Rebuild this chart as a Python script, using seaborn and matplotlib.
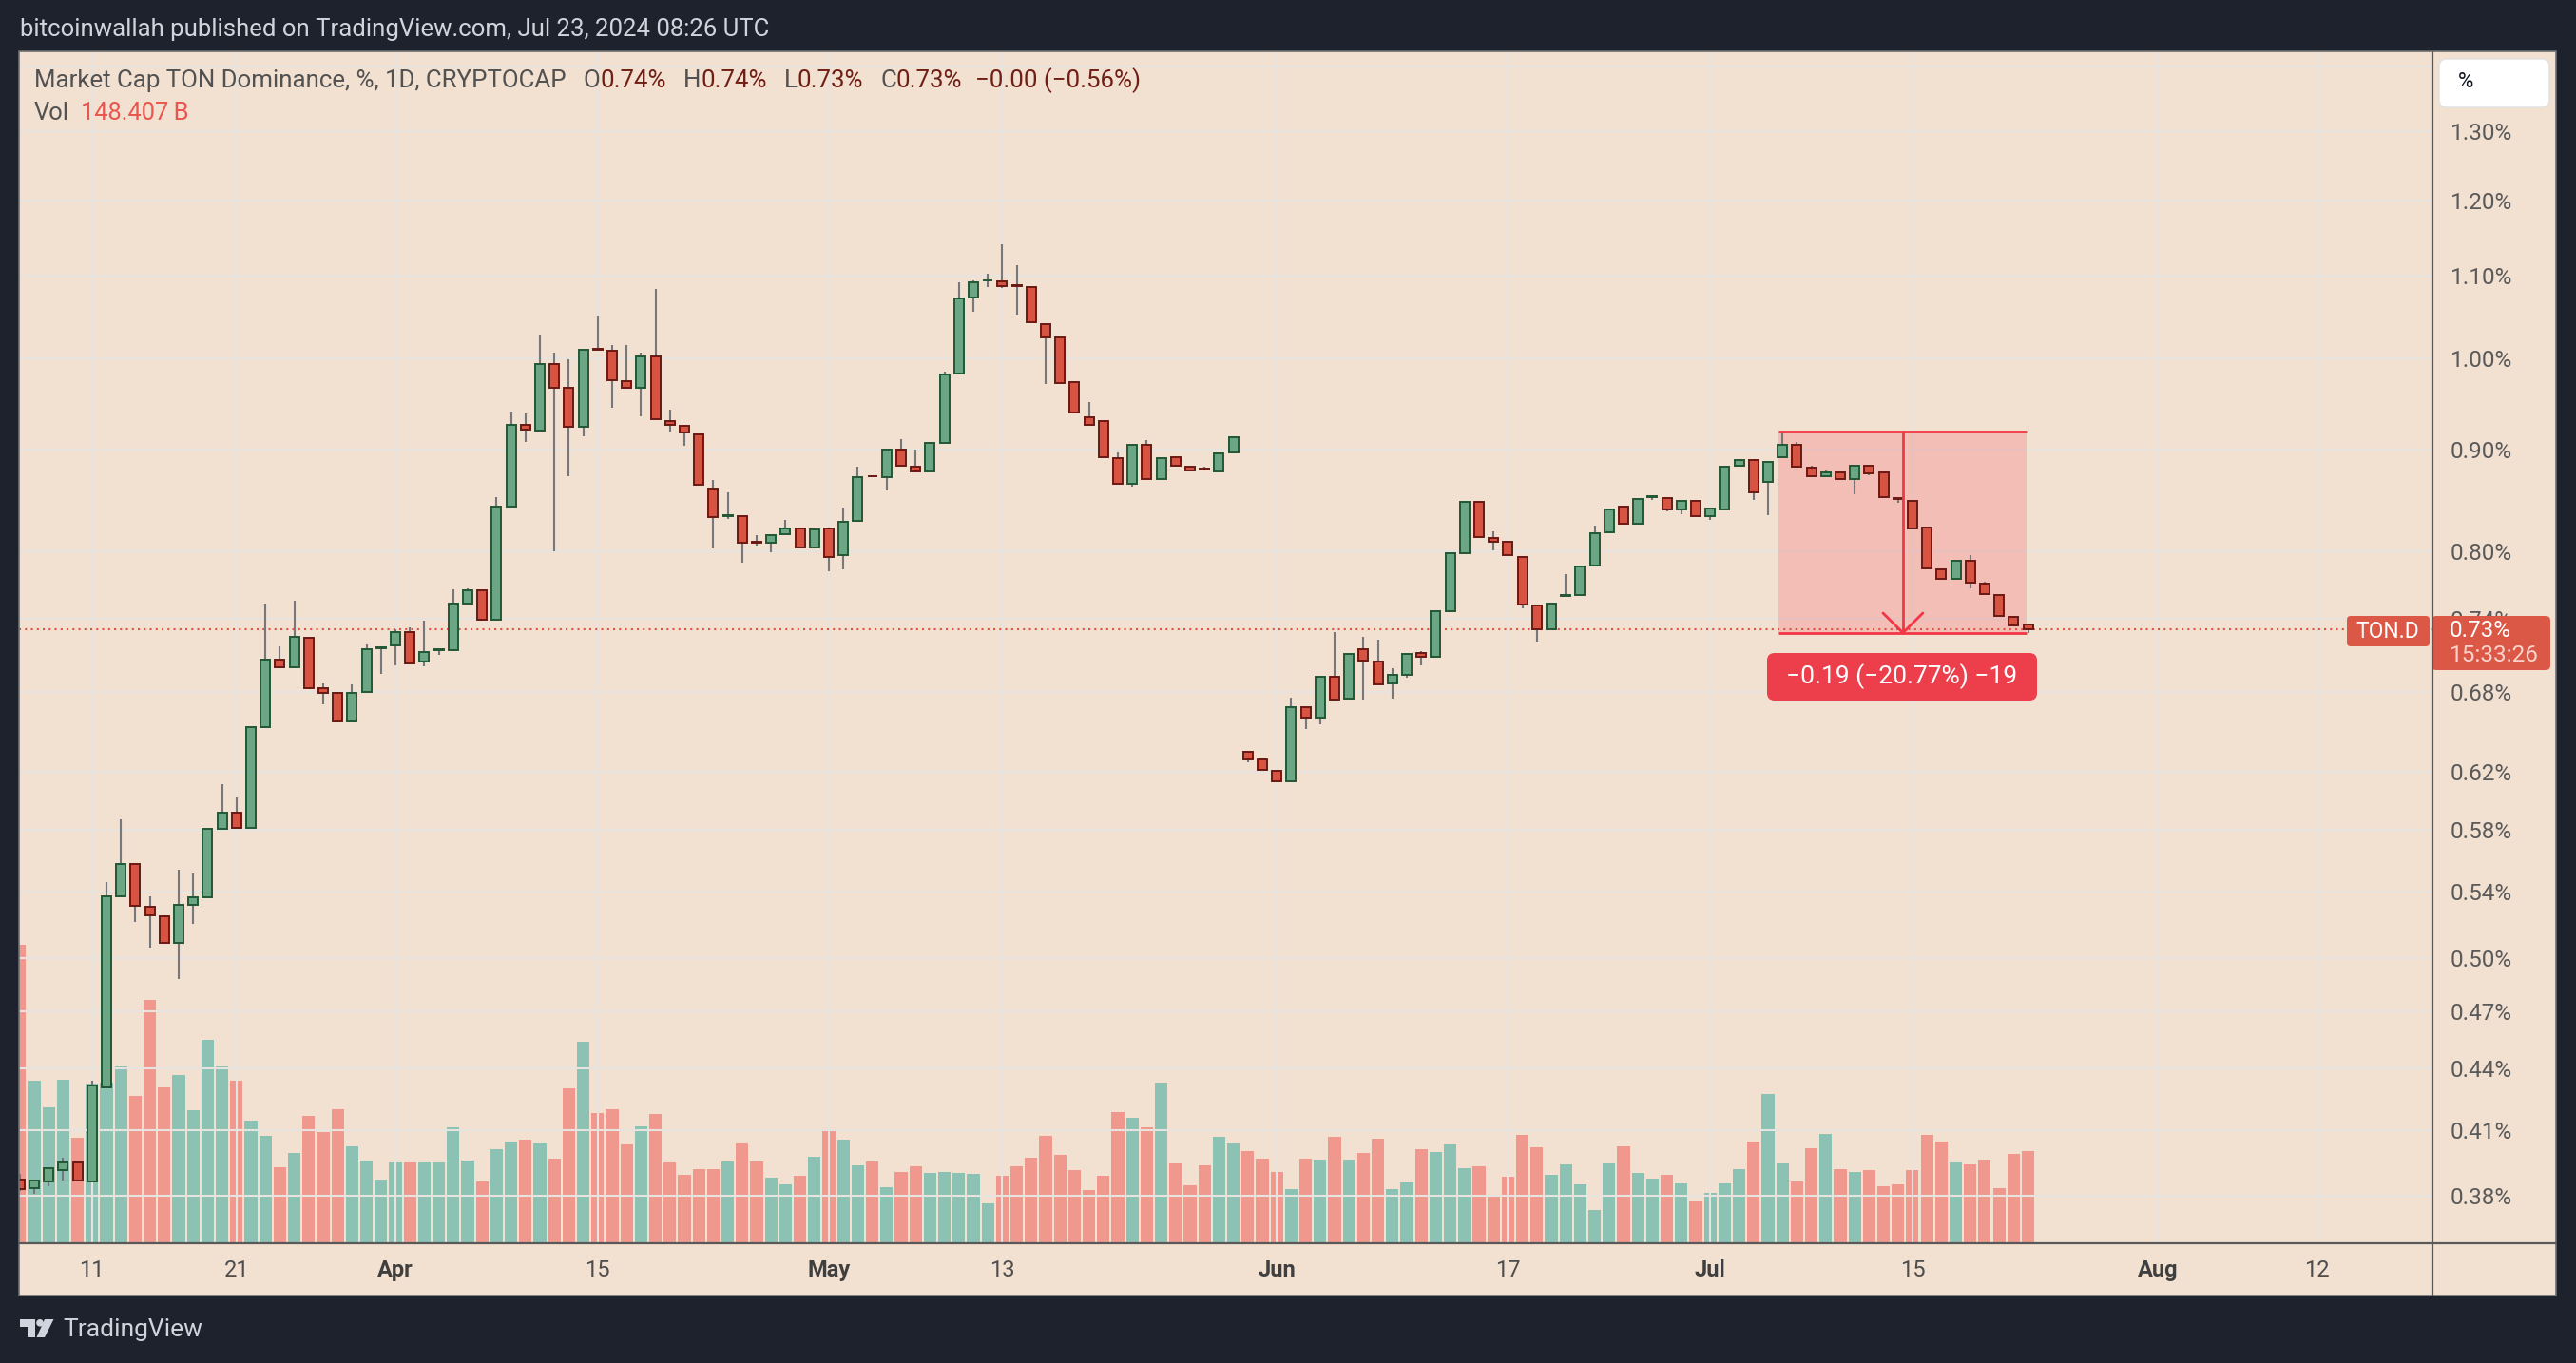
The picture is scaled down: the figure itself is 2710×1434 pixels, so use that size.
import numpy as np
import pandas as pd
import matplotlib
matplotlib.use("Agg")
import matplotlib.pyplot as plt
import seaborn as sns
from matplotlib.patches import Rectangle, FancyBboxPatch, Polygon, Circle
from matplotlib.ticker import FixedLocator, NullLocator

sns.set_theme(style="white")
plt.rcParams["font.family"] = ["Roboto", "DejaVu Sans"]

# ---------------- data ----------------
start_date = "2024-03-06"

opens = [0.3870, 0.3834, 0.3863, 0.3915, 0.3948, 0.3862, 0.4308, 0.5369, 0.5572, 0.5306,
         0.5249, 0.5088, 0.5317, 0.5362, 0.5802, 0.5917, 0.5814, 0.6525, 0.7055, 0.6996,
         0.7236, 0.6827, 0.6790, 0.6571, 0.6800, 0.7150, 0.7175, 0.7290, 0.7042, 0.7136,
         0.7138, 0.7530, 0.7648, 0.7394, 0.8424, 0.9260, 0.9196, 0.9933, 0.9658, 0.9233,
         1.0110, 1.0089, 0.9739, 0.9662, 1.0022, 0.9302, 0.9250, 0.9160, 0.8604, 0.8330,
         0.8333, 0.8082, 0.8078, 0.8160, 0.8215, 0.8034, 0.8215, 0.7964, 0.8288, 0.8728,
         0.8716, 0.9000, 0.8823, 0.8771, 0.9070, 0.9819, 1.0725, 1.0935, 1.0926, 1.0878,
         1.0859, 1.0403, 1.0241, 0.9729, 0.9335, 0.9296, 0.8912, 0.8645, 0.9049, 0.8696,
         0.8922, 0.8823, 0.8800, 0.8770, 0.8970, 0.6347, 0.6289, 0.6209, 0.6132, 0.6679,
         0.6599, 0.6922, 0.6744, 0.7146, 0.7045, 0.6866, 0.6933, 0.7114, 0.7082, 0.7462,
         0.7979, 0.8472, 0.8125, 0.8084, 0.7950, 0.7514, 0.7310, 0.7600, 0.7605, 0.7868,
         0.8176, 0.8425, 0.8259, 0.8518, 0.8509, 0.8393, 0.8474, 0.8331, 0.8395, 0.8830,
         0.8886, 0.8670, 0.8915, 0.9049, 0.8811, 0.8726, 0.8765, 0.8692, 0.8833, 0.8760,
         0.8509, 0.8474, 0.8224, 0.7834, 0.7749, 0.7914, 0.7708, 0.7605, 0.7418, 0.7350]

highs = [0.3895, 0.3870, 0.3925, 0.3970, 0.3950, 0.4340, 0.5458, 0.5869, 0.5575, 0.5370,
         0.5252, 0.5537, 0.5515, 0.5802, 0.6110, 0.6020, 0.6525, 0.7529, 0.7170, 0.7554,
         0.7236, 0.6870, 0.6800, 0.6860, 0.7180, 0.7170, 0.7310, 0.7330, 0.7380, 0.7145,
         0.7655, 0.7660, 0.7648, 0.8518, 0.9403, 0.9380, 1.0273, 1.0064, 0.9984, 1.0097,
         1.0500, 1.0148, 1.0148, 1.0060, 1.0830, 0.9416, 0.9260, 0.9160, 0.8688, 0.8560,
         0.8333, 0.8150, 0.8152, 0.8290, 0.8215, 0.8206, 0.8215, 0.8410, 0.8820, 0.8730,
         0.9000, 0.9110, 0.9000, 0.9080, 0.9840, 1.0920, 1.0940, 1.1020, 1.1410, 1.1130,
         1.0859, 1.0403, 1.0241, 0.9729, 0.9500, 0.9296, 0.8970, 0.9049, 0.9100, 0.8912,
         0.8922, 0.8823, 0.8820, 0.8960, 0.9129, 0.6350, 0.6289, 0.6209, 0.6757, 0.6679,
         0.6922, 0.7285, 0.7107, 0.7245, 0.7220, 0.6990, 0.7107, 0.7125, 0.7462, 0.7979,
         0.8472, 0.8472, 0.8190, 0.8100, 0.7950, 0.7514, 0.7531, 0.7792, 0.7862, 0.8240,
         0.8397, 0.8425, 0.8500, 0.8527, 0.8509, 0.8490, 0.8490, 0.8403, 0.8823, 0.8886,
         0.8886, 0.8872, 0.9190, 0.9080, 0.8830, 0.8780, 0.8765, 0.8833, 0.8833, 0.8760,
         0.8509, 0.8474, 0.8224, 0.7834, 0.7914, 0.7960, 0.7720, 0.7605, 0.7418, 0.7355]

lows = [0.3820, 0.3808, 0.3840, 0.3865, 0.3866, 0.3856, 0.4300, 0.5365, 0.5210, 0.5060,
        0.5088, 0.4880, 0.5200, 0.5360, 0.5800, 0.5812, 0.5814, 0.6525, 0.6996, 0.6996,
        0.6827, 0.6700, 0.6571, 0.6571, 0.6800, 0.6940, 0.7015, 0.7030, 0.7000, 0.7100,
        0.7138, 0.7530, 0.7394, 0.7394, 0.8424, 0.9080, 0.9196, 0.7995, 0.8727, 0.9133,
        1.0100, 0.9445, 0.9662, 0.9354, 0.9316, 0.9190, 0.9040, 0.8638, 0.8022, 0.8300,
        0.7897, 0.8050, 0.7990, 0.8160, 0.8034, 0.8034, 0.7819, 0.7830, 0.8288, 0.8722,
        0.8580, 0.8830, 0.8771, 0.8771, 0.9070, 0.9819, 1.0550, 1.0850, 1.0840, 1.0510,
        1.0423, 0.9700, 0.9712, 0.9387, 0.9262, 0.8918, 0.8645, 0.8620, 0.8696, 0.8696,
        0.8830, 0.8778, 0.8795, 0.8770, 0.8970, 0.6270, 0.6214, 0.6132, 0.6132, 0.6516,
        0.6550, 0.6737, 0.6744, 0.6740, 0.6859, 0.6750, 0.6910, 0.7015, 0.7082, 0.7462,
        0.7979, 0.8131, 0.8010, 0.7964, 0.7489, 0.7210, 0.7310, 0.7600, 0.7605, 0.7868,
        0.8176, 0.8259, 0.8259, 0.8490, 0.8380, 0.8350, 0.8331, 0.8290, 0.8395, 0.8830,
        0.8490, 0.8340, 0.8915, 0.8818, 0.8726, 0.8726, 0.8692, 0.8540, 0.8730, 0.8518,
        0.8460, 0.8212, 0.7842, 0.7749, 0.7749, 0.7660, 0.7613, 0.7420, 0.7344, 0.7280]

closes = [0.3830, 0.3865, 0.3922, 0.3948, 0.3866, 0.4315, 0.5369, 0.5572, 0.5312, 0.5254,
          0.5088, 0.5317, 0.5365, 0.5802, 0.5917, 0.5812, 0.6525, 0.7055, 0.6996, 0.7250,
          0.6827, 0.6790, 0.6571, 0.6790, 0.7143, 0.7158, 0.7290, 0.7030, 0.7121, 0.7140,
          0.7530, 0.7648, 0.7394, 0.8424, 0.9260, 0.9206, 0.9933, 0.9662, 0.9233, 1.0097,
          1.0100, 0.9743, 0.9662, 1.0022, 0.9316, 0.9255, 0.9177, 0.8638, 0.8321, 0.8335,
          0.8078, 0.8078, 0.8152, 0.8213, 0.8034, 0.8206, 0.7946, 0.8279, 0.8719, 0.8722,
          0.9000, 0.8830, 0.8771, 0.9067, 0.9815, 1.0716, 1.0918, 1.0940, 1.0868, 1.0872,
          1.0423, 1.0241, 0.9712, 0.9387, 0.9262, 0.8918, 0.8645, 0.9049, 0.8696, 0.8912,
          0.8830, 0.8778, 0.8795, 0.8960, 0.9129, 0.6289, 0.6214, 0.6132, 0.6679, 0.6599,
          0.6922, 0.6737, 0.7107, 0.7050, 0.6859, 0.6936, 0.7107, 0.7082, 0.7462, 0.7979,
          0.8472, 0.8131, 0.8087, 0.7964, 0.7522, 0.7310, 0.7531, 0.7605, 0.7862, 0.8170,
          0.8397, 0.8259, 0.8500, 0.8527, 0.8391, 0.8474, 0.8331, 0.8403, 0.8823, 0.8886,
          0.8560, 0.8872, 0.9049, 0.8818, 0.8726, 0.8765, 0.8692, 0.8833, 0.8751, 0.8518,
          0.8500, 0.8212, 0.7842, 0.7749, 0.7914, 0.7714, 0.7613, 0.7420, 0.7344, 0.7309]

volumes_b = [480, 261, 219, 263, 170, 257, 259, 284, 237, 392,
             251, 271, 214, 327, 284, 261, 197, 173, 122, 146,
             205, 179, 216, 156, 133, 103, 130, 130, 130, 130,
             187, 133, 99, 151, 164, 167, 161, 136, 249, 324,
             210, 216, 159, 188, 208, 130, 110, 119, 119, 132,
             161, 132, 106, 95, 109, 139, 184, 167, 125, 132,
             90, 115, 124, 113, 115, 113, 112, 64, 109, 124,
             138, 173, 142, 118, 86, 109, 211, 202, 187, 259,
             129, 93, 125, 171, 161, 148, 136, 115, 87, 136,
             135, 171, 135, 145, 168, 87, 98, 151, 147, 159,
             121, 124, 75, 107, 174, 155, 110, 127, 95, 54,
             129, 156, 113, 104, 110, 96, 67, 81, 96, 119,
             164, 240, 129, 99, 153, 176, 119, 115, 118, 92,
             95, 118, 174, 164, 130, 127, 135, 89, 144, 148.4]

price_ticks = [1.40, 1.30, 1.20, 1.10, 1.00, 0.90, 0.80, 0.74, 0.68, 0.62,
               0.58, 0.54, 0.50, 0.47, 0.44, 0.41, 0.38]
hidden_price_labels = {1.40}
time_tick_dates = ["2024-03-11", "2024-03-21", "2024-04-01", "2024-04-15", "2024-05-01",
                   "2024-05-13", "2024-06-01", "2024-06-17", "2024-07-01", "2024-07-15",
                   "2024-08-01", "2024-08-12"]
time_tick_labels = ["11", "21", "Apr", "15", "May", "13", "Jun", "17", "Jul", "15", "Aug", "12"]
month_labels = {"Apr", "May", "Jun", "Jul", "Aug"}

last_price = 0.7309
measure_high = 0.919
measure_low = 0.728
measure_text = "\u22120.19 (\u221220.77%) \u221219"

# ---------------- style ----------------
W, H = 2710, 1434
DARK = "#1e222d"
BEIGE = "#f2e0d1"
GRID = "#e7e3df"
G_FILL, G_EDGE = "#6ba785", "#215735"
R_FILL, R_EDGE = "#d85442", "#6b1914"
WICK = "#76787c"
V_UP, V_DN = "#8cc2b4", "#f0988e"
AXIS_TXT = "#5a5a5a"
MEAS = "#f23645"

fig = plt.figure(figsize=(W / 100, H / 100), dpi=100)
fig.patch.set_facecolor(DARK)


def frac_rect(x0, y0, x1, y1):
    return [x0 / W, 1 - y1 / H, (x1 - x0) / W, (y1 - y0) / H]


# background panel
bg = fig.add_axes([0, 0, 1, 1], zorder=0)
bg.set_xlim(0, W)
bg.set_ylim(H, 0)
bg.axis("off")
bg.add_patch(Rectangle((20, 54), 2669, 1309, fc=BEIGE, ec="none"))

PLOT = frac_rect(20, 54, 2559, 1308)
XL = (-0.053, 166.99)

o = np.array(opens)
h = np.array(highs)
l = np.array(lows)
c = np.array(closes)
x = np.arange(len(o))
up = c >= o

# volume (seaborn)
axv = fig.add_axes(PLOT, zorder=1)
axv.patch.set_visible(False)
vdf = pd.DataFrame({"x": x, "vol": volumes_b, "dir": np.where(up, "up", "down")})
sns.barplot(data=vdf, x="x", y="vol", hue="dir", palette={"up": V_UP, "down": V_DN},
            native_scale=True, dodge=False, width=0.86, saturation=1, errorbar=None,
            legend=False, linewidth=0, ax=axv)
axv.set_xlim(*XL)
axv.set_ylim(0, 1918.6)
axv.axis("off")

# price
ax = fig.add_axes(PLOT, zorder=2)
ax.patch.set_visible(False)
ax.set_yscale("log")
ax.set_ylim(0.3596, 1.4253)
ax.set_xlim(*XL)
ax.yaxis.set_major_locator(FixedLocator(price_ticks))
ax.yaxis.set_minor_locator(NullLocator())
ax.set_yticklabels(["" if v in hidden_price_labels else f"{v:.2f}%" for v in price_ticks])
ax.yaxis.tick_right()
ax.tick_params(axis="y", length=0, pad=13.7, labelsize=17.5, labelcolor=AXIS_TXT)

start = pd.Timestamp(start_date)
tick_pos = [(pd.Timestamp(d) - start).days for d in time_tick_dates]
ax.set_xticks(tick_pos)
ax.set_xticklabels(time_tick_labels)
ax.tick_params(axis="x", length=0, pad=12.5, labelsize=17, labelcolor="#4d4d4d")
for lbl in ax.get_xticklabels():
    if lbl.get_text() in month_labels:
        lbl.set_fontweight("bold")
        lbl.set_color("#3f3f3f")
ax.grid(True, color=GRID, lw=1.5)
for s in ax.spines.values():
    s.set_visible(False)

# measure box (behind candles)
mx0, mx1, mxv = 121.72, 138.88, 130.34
ax.fill_between([mx0, mx1], measure_low, measure_high, color=MEAS, alpha=0.2, lw=0, zorder=2)

# candles
ax.vlines(x, l, h, color=WICK, lw=1.5, zorder=3)
bottom = np.minimum(o, c)
height = np.maximum(np.abs(c - o), 0.0006)
ax.bar(x[up], height[up], bottom=bottom[up], width=0.66, color=G_FILL, edgecolor=G_EDGE,
       linewidth=1.4, zorder=4)
ax.bar(x[~up], height[~up], bottom=bottom[~up], width=0.66, color=R_FILL, edgecolor=R_EDGE,
       linewidth=1.4, zorder=4)

# price line
ax.axhline(last_price, color="#e0533f", lw=1.5, ls=(0, (1, 2)), zorder=2.5)

# measure lines
ax.plot([mx0, mx1], [measure_high, measure_high], color=MEAS, lw=2, zorder=5, solid_capstyle="butt")
ax.plot([mx0, mx1], [measure_low, measure_low], color=MEAS, lw=2, zorder=5, solid_capstyle="butt")
ax.plot([mxv, mxv], [measure_high, measure_low], color=MEAS, lw=2, zorder=5)
ax.plot([mxv - 1.38, mxv, mxv + 1.38], [0.7448, measure_low, 0.7448], color=MEAS, lw=2, zorder=5)

# ---------------- overlay (pixel coords, top-left origin) ----------------
ov = fig.add_axes([0, 0, 1, 1], zorder=3)
ov.set_xlim(0, W)
ov.set_ylim(H, 0)
ov.axis("off")

BORDER = "#6f6f6f"
ov.add_patch(Rectangle((20, 54), 2669, 1309, fc="none", ec=BORDER, lw=1.2))
ov.plot([20, 2689], [1308, 1308], color="#595959", lw=1.6)
ov.plot([2559, 2559], [54, 1363], color="#595959", lw=1.6)

# measure label
ov.add_patch(FancyBboxPatch((1859, 687), 284, 50, boxstyle="round,pad=0,rounding_size=8",
                            fc="#ec3f4b", ec="none"))
ov.text(2001, 712, measure_text, color="white", fontsize=19, ha="center", va="center")

# right-axis labels
LBL = "#dc5846"
ov.add_patch(FancyBboxPatch((2469, 648), 87, 32, boxstyle="round,pad=0,rounding_size=4",
                            fc=LBL, ec="none"))
ov.text(2512, 664.5, "TON.D", color="white", fontsize=16.5, ha="center", va="center")
ov.add_patch(FancyBboxPatch((2558, 648), 125, 57, boxstyle="round,pad=0,rounding_size=5",
                            fc=LBL, ec="none"))
ov.text(2577, 663, "0.73%", color="white", fontsize=17.5, ha="left", va="center")
ov.text(2577, 690, "15:33:26", color="#fbd3cc", fontsize=17.5, ha="left", va="center")

# % button
ov.add_patch(FancyBboxPatch((2566, 62), 116, 51, boxstyle="round,pad=0,rounding_size=8",
                            fc="white", ec="#e0e0e0", lw=1))
ov.text(2594, 87, "%", color="#131722", fontsize=16, ha="center", va="center")

# header
ov.text(21, 31, "bitcoinwallah published on TradingView.com, Jul 23, 2024 08:26 UTC",
        color="#d1d4dc", fontsize=18.5, ha="left", va="center")


def chain(x0, y0, parts, size):
    prev = None
    for txt, col, gap in parts:
        if prev is None:
            prev = ov.text(x0, y0, txt, color=col, fontsize=size, ha="left", va="center")
        else:
            prev = ov.annotate(txt, xy=(1, 0.5), xycoords=prev, xytext=(gap, 0),
                               textcoords="offset pixels", color=col, fontsize=size,
                               ha="left", va="center")
    return prev


LEG = "#525252"
VAL = "#701f16"
chain(36, 85, [("Market Cap TON Dominance, %, 1D, CRYPTOCAP", LEG, 0),
               ("O", LEG, 18), ("0.74%", VAL, 0),
               ("H", LEG, 18), ("0.74%", VAL, 0),
               ("L", LEG, 18), ("0.73%", VAL, 0),
               ("C", LEG, 18), ("0.73%", VAL, 0),
               ("\u22120.00 (\u22120.56%)", VAL, 14)], 18.6)
chain(36, 119, [("Vol", LEG, 0), ("148.407\u2009B", "#e8564d", 12)], 18.4)

# TradingView logo
LOGO = "#d1d4dc"
ov.add_patch(Polygon([(20.5, 1388), (37, 1388), (37, 1407), (29, 1407), (29, 1395.5), (20.5, 1395.5)],
                     closed=True, fc=LOGO, ec="none"))
ov.add_patch(Circle((42, 1391.8), 3.8, fc=LOGO, ec="none"))
ov.add_patch(Polygon([(47, 1388), (56.5, 1388), (47, 1407), (38.5, 1407)], closed=True, fc=LOGO, ec="none"))
ov.text(66, 1399, "TradingView", color=LOGO, fontsize=19, ha="left", va="center")

fig.savefig("out.png", dpi=100, facecolor=DARK)
